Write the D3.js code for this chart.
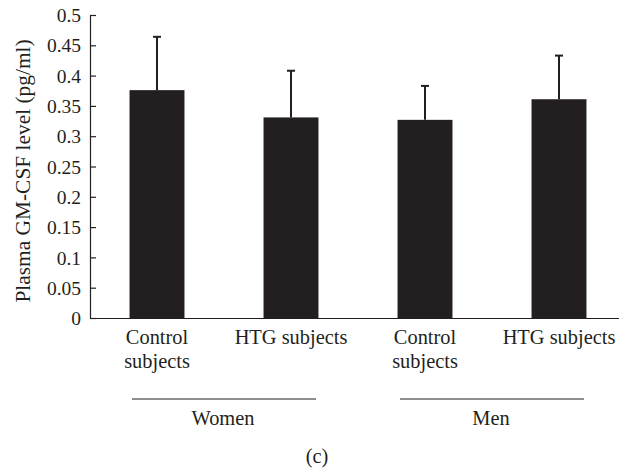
<!DOCTYPE html>
<html>
<head>
<meta charset="utf-8">
<script src="https://cdn.jsdelivr.net/npm/d3@7"></script>
<style>
body { margin: 0; background: #fff; }
text { font-family: "Liberation Serif", serif; fill: #231f20; }
</style>
</head>
<body>
<script>
// data
var categories = ["Control subjects", "HTG subjects", "Control subjects", "HTG subjects"];
var groupOf = ["Women", "Women", "Men", "Men"];
var groupNames = ["Women", "Men"];
var means = [0.376, 0.331, 0.327, 0.361];
var errors = [0.088, 0.077, 0.056, 0.072];
var yTicks = [0, 0.05, 0.1, 0.15, 0.2, 0.25, 0.3, 0.35, 0.4, 0.45, 0.5];
var yTitle = "Plasma GM-CSF level (pg/ml)";
var panelLabel = "(c)";

var ink = "#231f20";

var width = 619;
var height = 470;

var margins = {
  top: 15,
  bottom: 152,
  left: 90,
  right: -7
};

var svg = d3.select("body").append("svg")
  .attr("width", width)
  .attr("height", height);

var plotH = height - margins.top - margins.bottom;

var xScale = d3.scaleBand()
  .domain(d3.range(categories.length))
  .range([margins.left, width - margins.right])
  .paddingInner(0.59)
  .paddingOuter(0.295);

var yScale = d3.scaleLinear()
  .domain([0, 0.5])
  .range([margins.top + plotH, margins.top]);

var base = yScale(0);

// bars
svg.append("g")
  .selectAll("rect")
  .data(means)
  .enter()
  .append("rect")
  .attr("x", function(d, i) { return xScale(i); })
  .attr("y", function(d) { return yScale(d); })
  .attr("width", xScale.bandwidth())
  .attr("height", function(d) { return base - yScale(d); })
  .attr("fill", ink);

// error bars (upper only)
var err = svg.append("g")
  .selectAll("g")
  .data(means)
  .enter()
  .append("g");

err.append("line")
  .attr("x1", function(d, i) { return xScale(i) + xScale.bandwidth() / 2; })
  .attr("x2", function(d, i) { return xScale(i) + xScale.bandwidth() / 2; })
  .attr("y1", function(d) { return yScale(d); })
  .attr("y2", function(d, i) { return yScale(d + errors[i]); })
  .attr("stroke", ink)
  .attr("stroke-width", 2);

err.append("line")
  .attr("x1", function(d, i) { return xScale(i) + xScale.bandwidth() / 2 - 4; })
  .attr("x2", function(d, i) { return xScale(i) + xScale.bandwidth() / 2 + 4; })
  .attr("y1", function(d, i) { return yScale(d + errors[i]); })
  .attr("y2", function(d, i) { return yScale(d + errors[i]); })
  .attr("stroke", ink)
  .attr("stroke-width", 2);

// axes
var yAxis = d3.axisLeft(yScale)
  .tickValues(yTicks)
  .tickFormat(function(d) { return String(d); })
  .tickSizeInner(-6)
  .tickSizeOuter(0)
  .tickPadding(9);

var xAxis = d3.axisBottom(xScale)
  .tickValues([])
  .tickSizeOuter(0);

var gy = svg.append("g")
  .attr("transform", "translate(" + margins.left + ",0)")
  .call(yAxis);

var gx = svg.append("g")
  .attr("transform", "translate(0," + base + ")")
  .call(xAxis);

[gy, gx].forEach(function(g) {
  g.select(".domain").attr("stroke", ink).attr("stroke-width", 1.2);
  g.selectAll(".tick line").attr("stroke", ink).attr("stroke-width", 1.2);
  g.selectAll(".tick text")
    .attr("fill", ink)
    .style("font-family", "Liberation Serif")
    .style("font-size", "19.5px");
});
gy.selectAll(".tick text").attr("dy", "0.34em");

// category labels, wrapped on two lines for "Control subjects"
var labels = svg.append("g")
  .selectAll("text")
  .data(categories)
  .enter()
  .append("text")
  .attr("text-anchor", "middle")
  .style("font-size", "20.4px")
  .attr("y", base + 26);

labels.each(function(d, i) {
  var t = d3.select(this);
  var cx = xScale(i) + xScale.bandwidth() / 2;
  var words = d.indexOf("Control") === 0 ? d.split(" ") : [d];
  words.forEach(function(w, k) {
    t.append("tspan")
      .attr("x", cx)
      .attr("dy", k === 0 ? 0 : 24)
      .text(w);
  });
});

// group underline + group name
var groups = svg.append("g")
  .selectAll("g")
  .data(groupNames)
  .enter()
  .append("g");

function groupCenter(name) {
  var idx = [];
  groupOf.forEach(function(g, i) { if (g === name) idx.push(i); });
  var a = xScale(idx[0]) + xScale.bandwidth() / 2;
  var b = xScale(idx[idx.length - 1]) + xScale.bandwidth() / 2;
  return (a + b) / 2;
}

groups.append("line")
  .attr("x1", function(d) { return groupCenter(d) - 92; })
  .attr("x2", function(d) { return groupCenter(d) + 92; })
  .attr("y1", base + 81)
  .attr("y2", base + 81)
  .attr("stroke", ink)
  .attr("stroke-width", 1.2);

groups.append("text")
  .attr("x", function(d) { return groupCenter(d) - 1; })
  .attr("y", base + 107)
  .attr("text-anchor", "middle")
  .style("font-size", "20.4px")
  .text(function(d) { return d; });

// y title
svg.append("text")
  .attr("transform", "translate(30," + (margins.top + 156) + ") rotate(-90)")
  .attr("text-anchor", "middle")
  .style("font-size", "21.4px")
  .text(yTitle);

// panel label
svg.append("text")
  .attr("x", 317)
  .attr("y", 463)
  .attr("text-anchor", "middle")
  .style("font-size", "20.4px")
  .text(panelLabel);
</script>
</body>
</html>
